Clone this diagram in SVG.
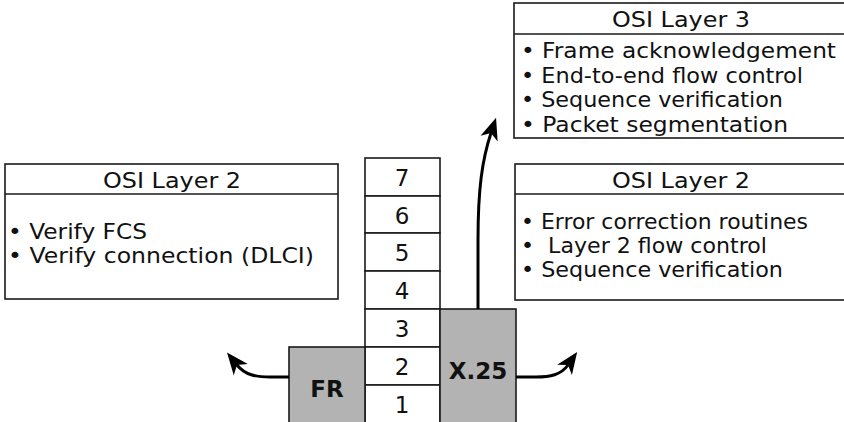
<svg xmlns="http://www.w3.org/2000/svg" width="844" height="422" viewBox="0 0 844 422">
<style>
.box{fill:#fff;stroke:#1a1a1a;stroke-width:1.6}
.gray{fill:#b3b3b3;stroke:#1a1a1a;stroke-width:1.6}
.t{font-family:"DejaVu Sans","Liberation Sans",sans-serif;font-size:22px;fill:#111}
.h{text-anchor:middle}
.d{font-family:"DejaVu Sans","Liberation Sans",sans-serif;font-size:23px;fill:#111;text-anchor:middle}
.b{font-family:"DejaVu Sans","Liberation Sans",sans-serif;font-size:23px;font-weight:bold;fill:#111;text-anchor:middle}
.arr{fill:none;stroke:#000;stroke-width:3}
</style>
<defs>
<marker id="ah" markerUnits="userSpaceOnUse" viewBox="-4 -12 28 24" markerWidth="28" markerHeight="24" refX="3" refY="0" orient="auto">
<path d="M-3,-9 L19,0 L-3,9 L3,0 Z" fill="#000"/>
</marker>
</defs>

<g id="osi-layer3">
<rect class="box" x="514" y="3" width="340" height="135"/>
<line x1="514" y1="34" x2="844" y2="34" stroke="#1a1a1a" stroke-width="1.6"/>
<text class="t h" x="681" y="27" textLength="138" lengthAdjust="spacingAndGlyphs">OSI Layer 3</text>
<text class="t" x="521" y="58" textLength="315" lengthAdjust="spacingAndGlyphs">• Frame acknowledgement</text>
<text class="t" x="521" y="83" textLength="282" lengthAdjust="spacingAndGlyphs">• End-to-end flow control</text>
<text class="t" x="521" y="107" textLength="262" lengthAdjust="spacingAndGlyphs">• Sequence verification</text>
<text class="t" x="521" y="132" textLength="267" lengthAdjust="spacingAndGlyphs">• Packet segmentation</text>
</g>

<g id="osi-layer2-left">
<rect class="box" x="5" y="164" width="333" height="135"/>
<line x1="5" y1="194" x2="338" y2="194" stroke="#1a1a1a" stroke-width="1.6"/>
<text class="t h" x="172" y="188" textLength="138" lengthAdjust="spacingAndGlyphs">OSI Layer 2</text>
<text class="t" x="8" y="239" textLength="139" lengthAdjust="spacingAndGlyphs">• Verify FCS</text>
<text class="t" x="8" y="263" textLength="306" lengthAdjust="spacingAndGlyphs">• Verify connection (DLCI)</text>
</g>

<g id="osi-layer2-right">
<rect class="box" x="515" y="164" width="340" height="136"/>
<line x1="515" y1="194" x2="844" y2="194" stroke="#1a1a1a" stroke-width="1.6"/>
<text class="t h" x="681" y="188" textLength="138" lengthAdjust="spacingAndGlyphs">OSI Layer 2</text>
<text class="t" x="521" y="229" textLength="287" lengthAdjust="spacingAndGlyphs">• Error correction routines</text>
<text class="t" x="521" y="253" textLength="246" lengthAdjust="spacingAndGlyphs">• &#160;Layer 2 flow control</text>
<text class="t" x="521" y="277" textLength="262" lengthAdjust="spacingAndGlyphs">• Sequence verification</text>
</g>

<g id="osi-stack">
<rect class="box" x="365" y="158" width="75" height="38"/>
<rect class="box" x="365" y="196" width="75" height="37"/>
<rect class="box" x="365" y="233" width="75" height="38"/>
<rect class="box" x="365" y="271" width="75" height="38"/>
<rect class="box" x="365" y="309" width="75" height="38"/>
<rect class="box" x="365" y="347" width="75" height="38"/>
<rect class="box" x="365" y="385" width="75" height="45"/>
<text class="d" x="402" y="186">7</text>
<text class="d" x="402" y="224">6</text>
<text class="d" x="402" y="261">5</text>
<text class="d" x="402" y="299">4</text>
<text class="d" x="402" y="337">3</text>
<text class="d" x="402" y="375">2</text>
<text class="d" x="402" y="413">1</text>
</g>

<g id="fr">
<rect class="gray" x="289" y="347" width="76" height="85"/>
<text class="b" x="327" y="397">FR</text>
</g>

<g id="x25">
<rect class="gray" x="440" y="309" width="76" height="123"/>
<text class="b" x="478" y="379">X.25</text>
</g>

<g id="connectors">
<path class="arr" d="M478,309 L478,240 C478,190 482,160 491,133" marker-end="url(#ah)"/>
<path class="arr" d="M289,377 L270,377 C256,377 245,375 237,365" marker-end="url(#ah)"/>
<path class="arr" d="M516,377 L536,377 C550,377 561,375 568,365" marker-end="url(#ah)"/>
</g>
</svg>
